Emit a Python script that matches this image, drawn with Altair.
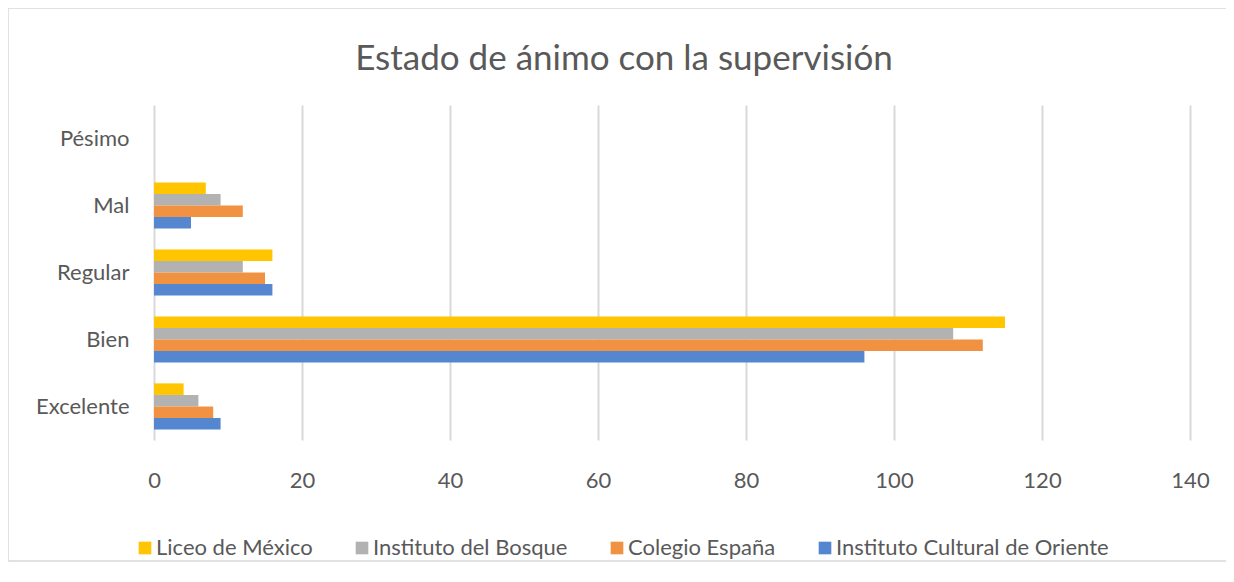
import altair as alt
import pandas as pd

categories = ["Pésimo", "Mal", "Regular", "Bien", "Excelente"]
schools = ["Liceo de México", "Instituto del Bosque", "Colegio España", "Instituto Cultural de Oriente"]
liceo = [0, 7, 16, 115, 4]
bosque = [0, 9, 12, 108, 6]
espana = [0, 12, 15, 112, 8]
cultural = [0, 5, 16, 96, 9]
colors = ["#FFC500", "#B2B2B2", "#F19142", "#5586D0"]
x_ticks = [0, 20, 40, 60, 80, 100, 120, 140]

series = [liceo, bosque, espana, cultural]
rows = []
for s, vals in zip(schools, series):
    for c, v in zip(categories, vals):
        rows.append({"estado": c, "escuela": s, "valor": v})
df = pd.DataFrame(rows)

FONT = "Lato"
TXT = "#595959"

bars = alt.Chart(df).mark_bar().encode(
    y=alt.Y("estado:N", sort=categories,
            scale=alt.Scale(paddingInner=0.31, paddingOuter=0.155),
            axis=alt.Axis(title=None, domain=False, ticks=False, labelFontSize=22,
                          labelFont=FONT, labelColor=TXT, labelPadding=25)),
    yOffset=alt.YOffset("escuela:N", sort=schools, scale=alt.Scale(paddingInner=0.0)),
    x=alt.X("valor:Q", scale=alt.Scale(domain=[0, 140], nice=False),
            axis=alt.Axis(values=x_ticks, grid=True, gridColor="#D9D9D9", gridWidth=2,
                          domain=False, ticks=False, title=None, labelFontSize=22,
                          labelFont=FONT, labelColor=TXT, labelPadding=30,
                          labelFlush=False)),
    color=alt.Color("escuela:N", scale=alt.Scale(domain=schools, range=colors),
                    legend=alt.Legend(orient="none", legendX=-20, legendY=432,
                                      direction="horizontal", title=None,
                                      symbolType="square", symbolSize=160,
                                      symbolStrokeWidth=0, labelFontSize=22,
                                      labelFont=FONT, labelColor=TXT, labelLimit=500,
                                      labelOffset=0, columnPadding=38, padding=0)),
)

border = alt.Chart(pd.DataFrame({"a": [0]})).mark_rect(
    fill="transparent", stroke="#D9D9D9", strokeWidth=1.5
).encode(x=alt.value(-146), x2=alt.value(1100), y=alt.value(-97), y2=alt.value(456))

chart = alt.layer(border, bars).properties(
    width=1036, height=335,
    title=alt.Title("Estado de ánimo con la supervisión", font=FONT, fontSize=35,
                    fontWeight="normal", color=TXT, anchor="middle", dx=-48,
                    offset=30, dy=100),
    autosize=alt.AutoSizeParams(type="none"),
    padding={"left": 146, "top": 97, "right": 36, "bottom": 130},
).configure_view(stroke=None)

chart.save("out.html", embed_options={"renderer": "svg", "actions": False})
